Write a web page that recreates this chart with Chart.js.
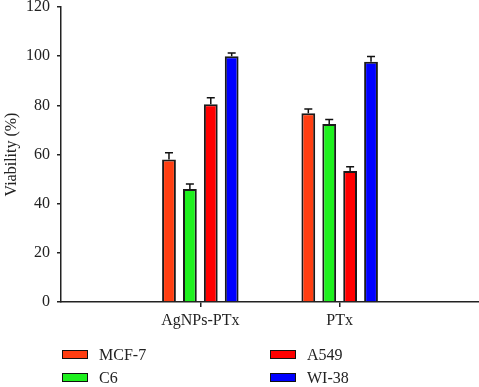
<!DOCTYPE html>
<html>
<head>
<meta charset="utf-8">
<script src="https://cdn.jsdelivr.net/npm/chart.js@4/dist/chart.umd.min.js"></script>
<style>
  html, body { margin:0; padding:0; background:#fff; }
  #wrap { position:relative; width:479px; height:387px; }
  canvas { position:absolute; left:0; top:0; }
  .lg { position:absolute; font-family:"Liberation Serif", "Times New Roman", serif; font-size:16px; color:#222; line-height:16px; }
  .bx { position:absolute; width:24px; height:7px; border:1.5px solid #111; }
</style>
</head>
<body>
<div id="wrap">
  <canvas id="c" width="479" height="387"></canvas>
  <div id="legend"></div>
</div>
<script>
const categories = ['AgNPs-PTx', 'PTx'];
const seriesNames = ['MCF-7', 'C6', 'A549', 'WI-38'];
const mcf7 = [58.0, 76.8];
const c6 = [46.0, 72.4];
const a549 = [80.4, 53.3];
const wi38 = [100.0, 97.7];
const mcf7Err = [2.7, 1.7];
const c6Err = [2.0, 1.8];
const a549Err = [2.7, 1.7];
const wi38Err = [1.3, 2.2];
const yTicks = [0, 20, 40, 60, 80, 100, 120];

const colors = ['#FF3E12', '#1EF01E', '#FF0000', '#0000FF'];
const values = [mcf7, c6, a549, wi38];
const errs = [mcf7Err, c6Err, a549Err, wi38Err];

const labels = [''].concat(categories, ['']);
const pad = arr => [null].concat(arr, [null]);

const datasets = seriesNames.map((n, i) => ({
  label: n,
  data: pad(values[i]),
  errors: pad(errs[i]),
  backgroundColor: colors[i],
  borderColor: '#1a1a1a',
  borderWidth: 2,
  categoryPercentage: 0.6,
  barPercentage: 0.66
}));

const errorBars = {
  id: 'errorBars',
  afterDatasetsDraw(chart) {
    const ctx = chart.ctx;
    const ys = chart.scales.y;
    ctx.save();
    ctx.strokeStyle = '#111';
    ctx.lineWidth = 1.5;
    chart.data.datasets.forEach((ds, di) => {
      const meta = chart.getDatasetMeta(di);
      meta.data.forEach((el, j) => {
        const v = ds.data[j], e = ds.errors[j];
        if (v == null || e == null) return;
        const yt = ys.getPixelForValue(v + e);
        ctx.beginPath();
        ctx.moveTo(el.x, el.y);
        ctx.lineTo(el.x, yt);
        ctx.moveTo(el.x - 4, yt);
        ctx.lineTo(el.x + 4, yt);
        ctx.stroke();
      });
    });
    ctx.restore();
  }
};

const font = { family: '"Liberation Serif", "Times New Roman", serif', size: 16 };

new Chart(document.getElementById('c'), {
  type: 'bar',
  data: { labels, datasets },
  options: {
    responsive: false,
    animation: false,
    layout: { padding: { top: 7, bottom: 50, left: 0, right: 0 } },
    plugins: { legend: { display: false }, tooltip: { enabled: false } },
    scales: {
      x: {
        offset: false,
        grid: {
          offset: false,
          drawOnChartArea: false, drawTicks: true, tickLength: 5, lineWidth: 1.5,
          color: c => (c.tick && c.tick.label) ? '#222' : 'rgba(0,0,0,0)'
        },
        border: { display: true, color: '#222', width: 1.5 },
        ticks: { font, color: '#222', padding: 4, autoSkip: false, maxRotation: 0 },
        afterFit: s => { s.height = 35; s.paddingLeft = 0; s.paddingRight = 0; }
      },
      y: {
        min: 0, max: 120,
        afterBuildTicks: s => { s.ticks = yTicks.map(v => ({ value: v })); },
        grid: { drawOnChartArea: false, drawTicks: true, tickLength: 4, lineWidth: 1.5, color: '#222' },
        border: { display: true, color: '#222', width: 1.5 },
        ticks: { font, color: '#222', padding: 7 },
        title: { display: true, text: 'Viability (%)', font, color: '#222', padding: { top: 2, bottom: 0 } },
        afterFit: s => { s.width = 61; s.paddingTop = 0; s.paddingBottom = 0; }
      }
    }
  },
  plugins: [errorBars]
});

// legend (HTML, two columns)
const legendPos = [[62, 350], [62, 373], [270, 350], [270, 373]];
const lg = document.getElementById('legend');
seriesNames.forEach((n, i) => {
  const [x, y] = legendPos[i];
  const b = document.createElement('div');
  b.className = 'bx';
  b.style.left = x + 'px'; b.style.top = y + 'px';
  b.style.background = colors[i];
  lg.appendChild(b);
  const t = document.createElement('div');
  t.className = 'lg';
  t.textContent = n;
  t.style.left = (x + 37) + 'px'; t.style.top = (y - 3) + 'px';
  lg.appendChild(t);
});
</script>
</body>
</html>
